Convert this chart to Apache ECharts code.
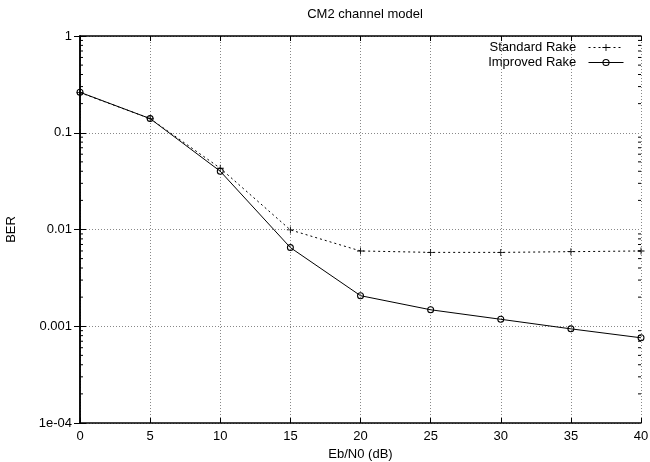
<!DOCTYPE html>
<html><head><meta charset="utf-8">
<script src="https://cdn.jsdelivr.net/npm/echarts@6/dist/echarts.min.js"></script>
<style>html,body{margin:0;padding:0;background:#fff}#c{width:650px;height:462px}</style>
</head><body><div id="c"></div>
<script>
var ebn0 = [0, 5, 10, 15, 20, 25, 30, 35, 40];
var standardRake = [0.26, 0.14, 0.043, 0.0099, 0.0060, 0.0058, 0.0058, 0.0059, 0.0060];
var improvedRake = [0.262, 0.14, 0.040, 0.0065, 0.00207, 0.00148, 0.00118, 0.00094, 0.00076];
var xTicks = [0, 5, 10, 15, 20, 25, 30, 35, 40];
var yTicks = [1, 0.1, 0.01, 0.001, 0.0001];

var minorVals = [];
for (var k = -4; k < 0; k++) for (var m = 2; m <= 9; m++) minorVals.push(m * Math.pow(10, k));

var font = 'Liberation Sans, Arial, sans-serif';
var chart = echarts.init(document.getElementById('c'), null, {renderer: 'canvas'});
function pairs(ys) { return ebn0.map(function (x, i) { return [x, ys[i]]; }); }
var plusPath = 'path://M4.4,0h1.2v10h-1.2z M0,4.4h10v1.2h-10z';
var ringPath = 'path://M5,0 A5,5 0 1,1 5,10 A5,5 0 1,1 5,0 Z M5,1.5 A3.5,3.5 0 1,0 5,8.5 A3.5,3.5 0 1,0 5,1.5 Z';

chart.setOption({
  animation: false,
  backgroundColor: '#fff',
  title: {text: 'CM2 channel model', left: 360, textAlign: 'center', top: 3,
    textStyle: {fontFamily: font, fontSize: 13, fontWeight: 'normal', color: '#000'}},
  legend: {
    right: 21, top: 36, orient: 'vertical', align: 'right', itemGap: 2,
    itemWidth: 35, itemHeight: 9,
    lineStyle: {width: 1},
    formatter: function (n) { return n + '  '; },
    textStyle: {fontFamily: font, fontSize: 13, color: '#000'},
    data: ['Standard Rake', 'Improved Rake']
  },
  grid: {left: 80, right: 9, top: 36, bottom: 39, outerBoundsMode: 'none', containLabel: false},
  xAxis: [{
    type: 'value', min: 0, max: 40, interval: 5,
    name: 'Eb/N0 (dB)', nameLocation: 'middle', nameGap: 21,
    nameTextStyle: {fontFamily: font, fontSize: 13, color: '#000'},
    axisLine: {lineStyle: {color: '#000', width: 1.5}},
    axisTick: {inside: true, length: 5, lineStyle: {color: '#000'}},
    axisLabel: {fontFamily: font, fontSize: 13, color: '#000', margin: 7},
    splitLine: {show: true, lineStyle: {color: '#888', type: [1, 2], width: 1}}
  }, {
    type: 'value', min: 0, max: 40, interval: 5, position: 'top',
    axisLine: {show: true, lineStyle: {color: '#000', width: 1.5}},
    axisTick: {inside: true, length: 5, lineStyle: {color: '#000'}},
    axisLabel: {show: false}, splitLine: {show: false}
  }],
  yAxis: [{
    type: 'log', logBase: 10, min: 0.0001, max: 1,
    name: 'BER', nameLocation: 'middle', nameGap: 62, nameRotate: 90,
    nameTextStyle: {fontFamily: font, fontSize: 13, color: '#000'},
    axisLine: {show: true, lineStyle: {color: '#000', width: 1.5}},
    axisTick: {inside: true, length: 6, lineStyle: {color: '#000'}},
    axisLabel: {fontFamily: font, fontSize: 13, color: '#000', margin: 8,
      formatter: function (v) {
        if (Math.abs(v - 0.0001) < 1e-9) return '1e-04';
        return String(+v.toPrecision(3));
      }},
    splitLine: {show: true, lineStyle: {color: '#888', type: [1, 2], width: 1}}
  }, {
    type: 'log', logBase: 10, min: 0.0001, max: 1, position: 'right',
    axisLine: {show: true, lineStyle: {color: '#000', width: 1.5}},
    axisTick: {inside: true, length: 6, lineStyle: {color: '#000'}},
    axisLabel: {show: false}, splitLine: {show: false}
  }],
  series: [{
    name: 'Standard Rake', type: 'line', data: pairs(standardRake),
    symbol: plusPath, symbolSize: 7, showAllSymbol: true,
    lineStyle: {color: '#000', width: 1, type: [2, 3]},
    itemStyle: {color: '#000', borderWidth: 0},
    z: 3
  }, {
    name: 'Improved Rake', type: 'line', data: pairs(improvedRake),
    symbol: ringPath, symbolSize: 7, showAllSymbol: true,
    lineStyle: {color: '#000', width: 1},
    itemStyle: {color: '#000', borderWidth: 0},
    z: 4
  }, {
    type: 'custom', silent: true, data: minorVals.map(function (v) { return [0, v]; }),
    renderItem: function (params, api) {
      var v = api.value(1);
      var pL = api.coord([0, v]);
      var pR = api.coord([40, v]);
      return {type: 'group', children: [
        {type: 'line', shape: {x1: pL[0], y1: pL[1], x2: pL[0] + 3, y2: pL[1]}, style: {stroke: '#000', lineWidth: 1}},
        {type: 'line', shape: {x1: pR[0], y1: pR[1], x2: pR[0] - 3, y2: pR[1]}, style: {stroke: '#000', lineWidth: 1}}
      ]};
    },
    z: 5
  }]
});
</script></body></html>
